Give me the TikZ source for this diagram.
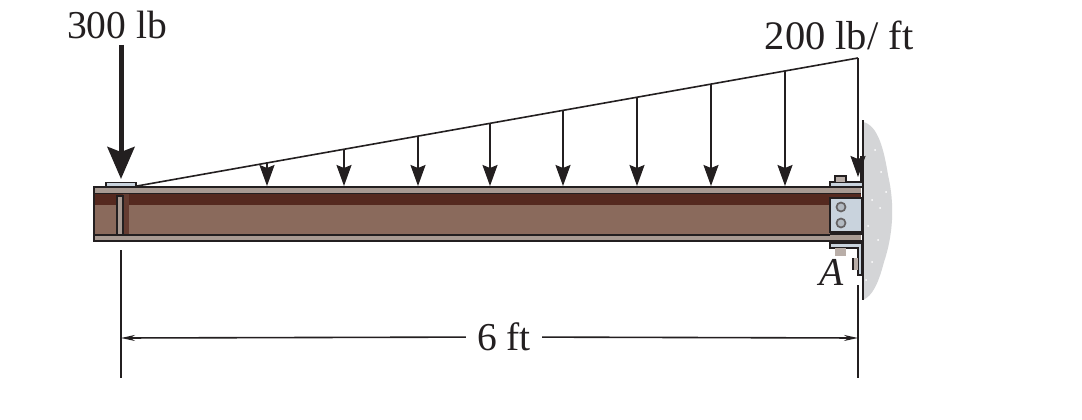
\documentclass[tikz,border=0pt]{standalone}
\usepackage{fontspec}
\setmainfont{Liberation Serif}
\usetikzlibrary{arrows.meta}
\definecolor{flangecol}{HTML}{A89A92}
\definecolor{darkband}{HTML}{55291F}
\definecolor{webcol}{HTML}{8A6A5C}
\definecolor{plate}{HTML}{C9D3DD}
\definecolor{wallcol}{HTML}{D4D5D7}
\definecolor{ink}{HTML}{231F20}
\tikzset{
  x=1pt,y=-1pt,
  lab/.style={font=\fontsize{39.5}{39.5}\selectfont,text=ink,inner sep=0pt},
  load/.style={draw=ink,line width=1.8pt,-{Stealth[length=21pt,width=15pt,inset=3pt]}},
  bigload/.style={draw=ink,line width=5pt,-{Stealth[length=32pt,width=27pt,inset=5pt]}},
  thin line/.style={draw=ink,line width=1.5pt},
  outline/.style={draw=ink,line width=1.7pt},
}
\begin{document}
\begin{tikzpicture}
\useasboundingbox (0,0) rectangle (1082,420);
\fill[white] (0,0) rectangle (1082,420);

% wall
\fill[wallcol] (863,122) .. controls (878,125) and (884,150) .. (888,175)
  .. controls (895,205) and (893,235) .. (884,262)
  .. controls (878,285) and (872,296) .. (863,300) -- cycle;
\foreach \wx/\wy in {875/150,881/172,872/200,880/208,868/226,878/240,872/262,866/280,886/192}
  \fill[white] (\wx,\wy) circle (1pt);

% beam
\fill[flangecol] (94,187) rectangle (832,241);
\fill[darkband] (94,194) rectangle (832,205);
\fill[webcol] (94,205) rectangle (832,235);
\fill[darkband!70!webcol] (123,194) rectangle (129,235);
\fill[flangecol] (117,196) rectangle (123,235);
\draw[outline,line width=1.3pt] (117,235) -- (117,196) -- (123,196) -- (123,235);
\draw[outline] (94,187) rectangle (832,241);
\draw[outline] (94,193.5) -- (832,193.5);
\draw[outline] (94,235) -- (832,235);

% top washer on the left
\draw[outline,fill=plate] (106,187) -- (106,182.5) -- (136,182.5) -- (136,187) -- cycle;

% connection at the wall
\draw[outline,fill=plate] (830,187) -- (830,182) -- (861,182) -- (861,157) -- (863,157) -- (863,187) -- cycle;
\draw[outline,fill=flangecol!80!white] (835,182) -- (835,176) -- (846,176) -- (846,182);
\fill[flangecol] (830,187) rectangle (861,193);
\draw[outline] (830,187) -- (861,187);
\draw[outline] (830,193.5) -- (861,193.5);
\fill[darkband] (830,194) rectangle (861,198);
\fill[flangecol] (830,232) rectangle (861,241);
\draw[outline] (830,198) rectangle (862,232);
\fill[plate] (831,199) rectangle (861,231);
\fill[ink] (830,232) rectangle (862,235);
\draw[outline] (830,241) -- (862,241);
\draw[outline,fill=ink] (830,241) rectangle (862,244);
\draw[ink!70,line width=1.7pt,fill=plate!70!gray] (841,207) circle (4.5pt);
\draw[ink!70,line width=1.7pt,fill=plate!70!gray] (841,223) circle (4.5pt);
\draw[outline,fill=plate] (830,243) -- (830,248) -- (858,248) -- (858,275) -- (862,275) -- (862,243) -- cycle;
\fill[flangecol!80!white] (835,248) rectangle (846,256);
\fill[flangecol!80!white] (853,258) rectangle (858,270);
\draw[ink,line width=1.1pt] (853,258) -- (853,270);

% wall face
\coordinate (wt) at (863,120);
\coordinate (wb) at (863,300);
\draw[draw=ink,line width=2pt] (wt) -- (wb);

% distributed load
\coordinate (lstart) at (137,186);
\coordinate (lend) at (858,58);
\draw[draw=ink,line width=1.6pt] (lstart) -- (lend);
\foreach \ax in {267,344,418,490,563,637,711,785,858}{
  \pgfmathsetmacro{\ay}{186-(\ax-137)*0.17753}
  \coordinate (ltop\ax) at (\ax,\ay);
  \pgfmathsetmacro{\tipy}{\ax==858 ? 177 : 186}
  \coordinate (ltip\ax) at (\ax,\tipy);
  \draw[load] (ltop\ax) -- (ltip\ax);
}

% point load
\coordinate (ptop) at (121,45);
\coordinate (ptip) at (121,179);
\draw[bigload] (ptop) -- (ptip);
\node[lab,anchor=center] (p300) at (117,25) {300 lb};

% dimension
\coordinate (da1) at (121,250);
\coordinate (da2) at (121,378);
\coordinate (db1) at (858,285);
\coordinate (db2) at (858,378);
\draw[thin line] (da1) -- (da2);
\draw[thin line] (db1) -- (db2);
\coordinate (dl) at (121,338);
\coordinate (dr) at (858,338);
\node[lab,fill=white,inner xsep=11pt,inner ysep=4pt] (six) at (504,337) {6 ft};
\draw[draw=ink,line width=1.6pt,{Stealth[length=14pt,width=6pt]}-] (dl) -- (six);
\draw[draw=ink,line width=1.6pt,-{Stealth[length=14pt,width=6pt]}] (six) -- (dr);

\node[lab,anchor=center,font=\fontsize{40.5}{40.5}\selectfont] (w200) at (839,35) {200 lb/ ft};
\node[lab,anchor=center] (pA) at (832,272) {\textit{A}};
\end{tikzpicture}
\end{document}
